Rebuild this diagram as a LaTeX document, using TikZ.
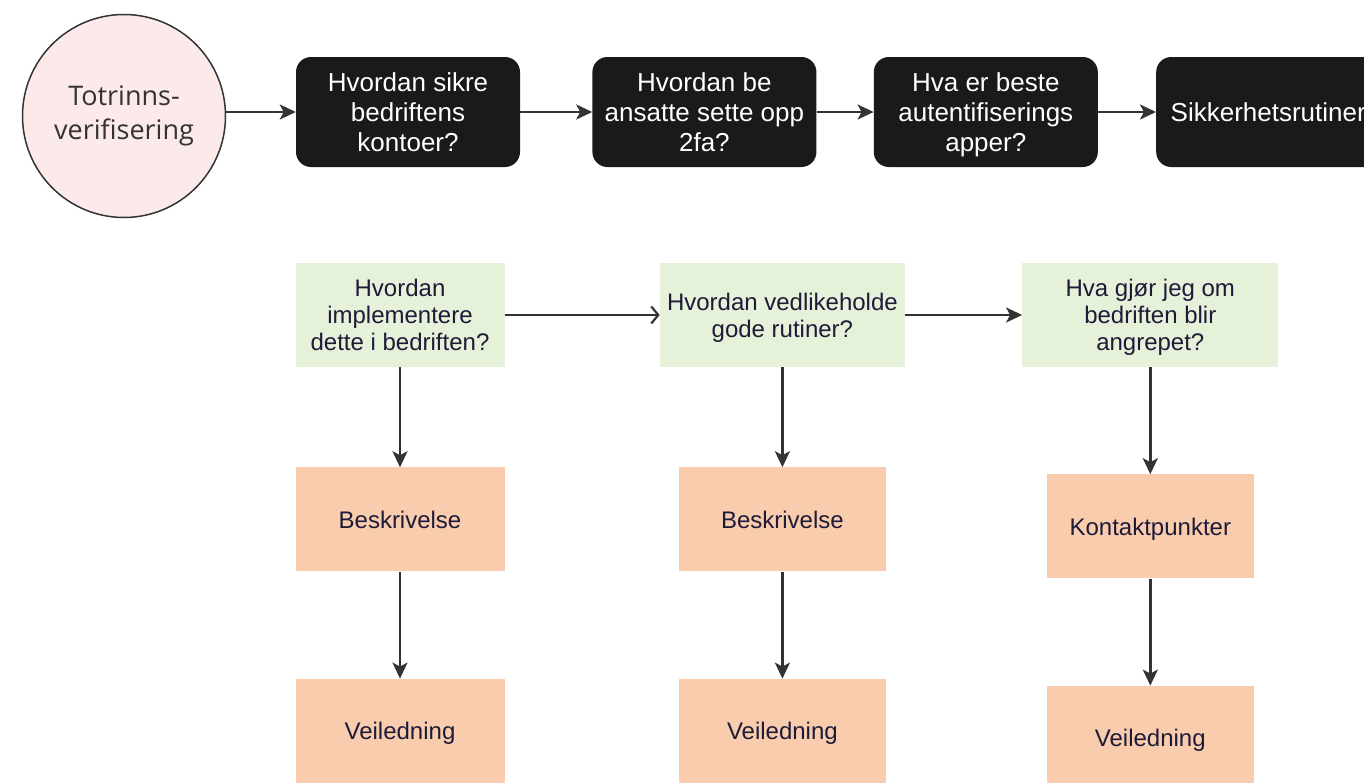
\documentclass[tikz,border=0pt]{standalone}
\usepackage{fontspec}
\setmainfont{Liberation Sans}
\newfontfamily\circlefont{Open Sans}
\usetikzlibrary{positioning,arrows.meta}
\definecolor{pinkfill}{HTML}{FCEAEA}
\definecolor{boxblack}{HTML}{1A1A1A}
\definecolor{greenfill}{HTML}{E6F1D9}
\definecolor{orangefill}{HTML}{F9CCAD}
\definecolor{linegray}{HTML}{333333}
\definecolor{navytext}{HTML}{1E1B38}
\tikzset{node distance=100pt,
  start/.style={draw=linegray, line width=1.5pt, circle, fill=pinkfill, minimum size=203pt, inner sep=0pt, align=center, text=linegray, font=\circlefont\fontsize{27}{34}\selectfont},
  question/.style={rounded corners=15pt, fill=boxblack, text=white, minimum width=224pt, minimum height=110pt, inner sep=0pt, text depth=0pt, align=center, font=\fontsize{26}{30}\selectfont},
  topic/.style={fill=greenfill, text=navytext, minimum height=104pt, inner sep=0pt, text depth=0pt, align=center, font=\fontsize{24}{27}\selectfont},
  info/.style={fill=orangefill, text=navytext, minimum width=207pt, minimum height=104pt, inner sep=0pt, text depth=0pt, align=center, font=\fontsize{24}{27}\selectfont},
  link/.style={draw=linegray, line width=2.4pt, -{Stealth[length=16pt,width=15pt,inset=4pt]}},
  openlink/.style={draw=linegray, line width=2.2pt, -{Straight Barb[length=7pt,width=17pt,line width=2.2pt]}}}
\begin{document}
\begin{tikzpicture}[x=1pt,y=1pt]
	\useasboundingbox (0,0) rectangle (1364,-782);
	\begin{scope}
	\clip (0,0) rectangle (1364,-782);
	\node[start] (C) at (124,-116) {Totrinns-\\verifisering};
	\node[question] (Q1) at (408,-112) {Hvordan sikre\\bedriftens\\kontoer?};
	\node[question] (Q2) [right=72pt of Q1] {Hvordan be\\ansatte sette opp\\2fa?};
	\node[question] (Q3) [right=57pt of Q2] {Hva er beste\\autentifiserings\\apper?};
	\node[question] (Q4) [right=58pt of Q3] {Sikkerhetsrutiner};

	\node[topic, minimum width=209pt] (T1) at (400,-315) {Hvordan\\implementere\\dette i bedriften?};
	\node[topic, minimum width=245pt] (T2) [right=155pt of T1] {Hvordan vedlikeholde\\gode rutiner?};
	\node[topic, minimum width=256pt] (T3) [right=117pt of T2] {Hva gjør jeg om\\bedriften blir\\angrepet?};

	\node[info, minimum width=209pt] (B1) [below=of T1] {Beskrivelse};
	\node[info] (B2) [below=of T2] {Beskrivelse};
	\node[info] (K3) [below=107pt of T3] {Kontaktpunkter};
	\node[info, minimum width=209pt] (V1) [below=107pt of B1] {Veiledning};
	\node[info] (V2) [below=107pt of B2] {Veiledning};
	\node[info] (V3) [below=107pt of K3] {Veiledning};
	\end{scope}

	\path[link] (C.east |- Q1.west) -- (Q1);
	\path[link] (Q1) -- (Q2);
	\path[link] (Q2) -- (Q3);
	\path[link] (Q3) -- (Q4);

	\path[openlink] (T1) -- (T2);
	\path[link] (T2) -- (T3);

	\path[link] (T1) -- (B1);
	\path[link] (B1) -- (V1);
	\path[link] (T2.south -| B2) -- (B2);
	\path[link] (B2) -- (V2);
	\path[link] (T3) -- (K3);
	\path[link] (K3) -- (V3);
\end{tikzpicture}
\end{document}
